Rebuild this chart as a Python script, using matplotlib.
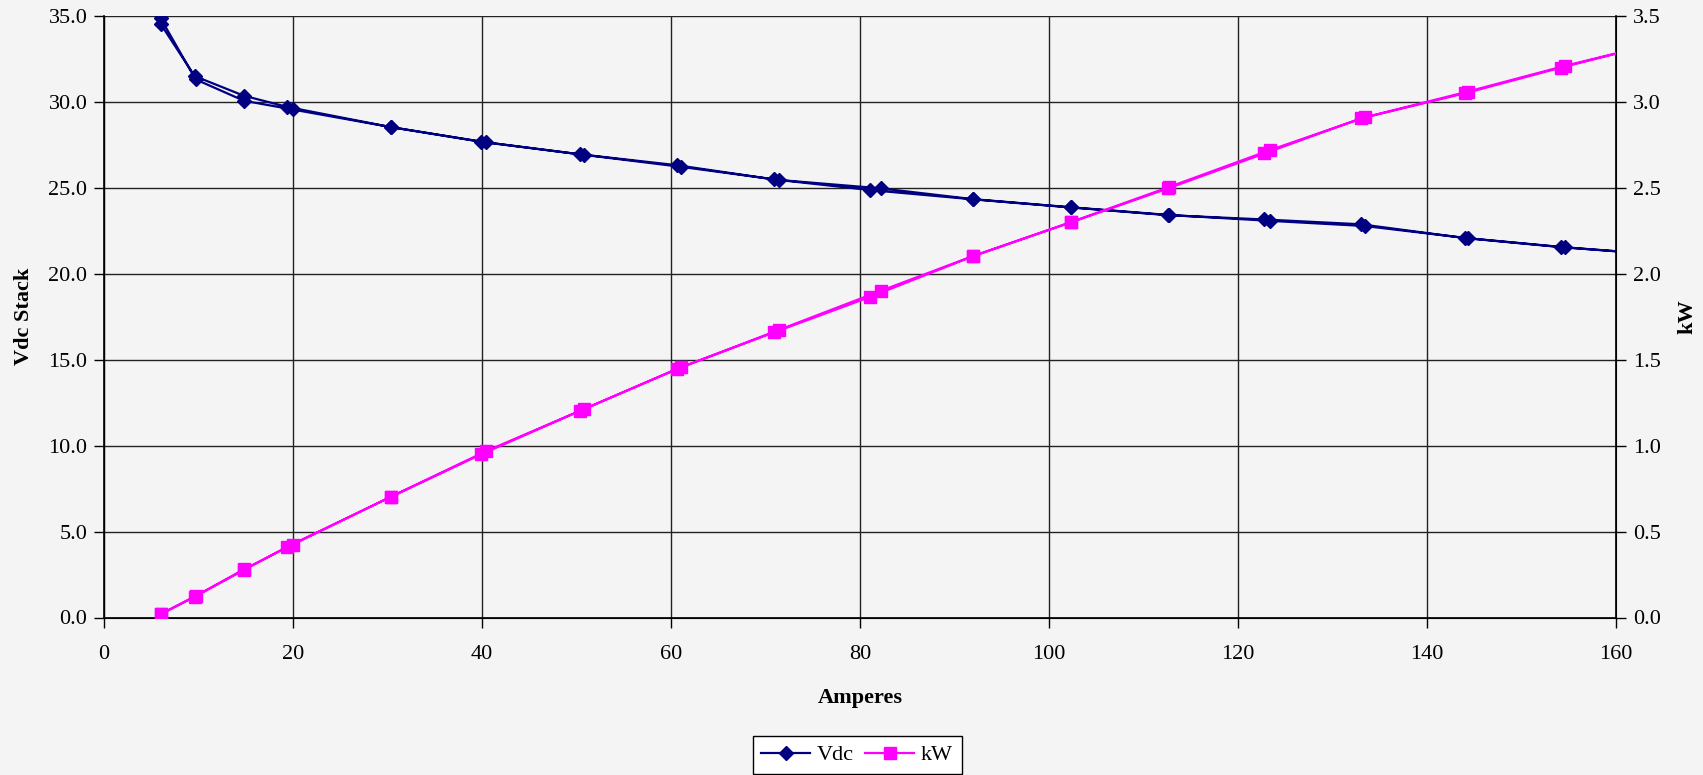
import numpy as np
import matplotlib.pyplot as plt

# mesures dans l'ordre : montée puis descente en courant
amperes = [6.0, 9.6, 14.8, 19.4, 30.4, 39.9, 50.4, 60.6, 70.9, 81.1, 92.0, 102.3,
           112.6, 122.8, 133.0, 144.0, 154.2, 165.0,
           154.6, 144.3, 133.4, 123.4, 112.7, 102.3, 92.0, 82.2, 71.4, 61.1,
           50.8, 40.4, 30.4, 19.95, 14.8, 9.7, 6.0]
vdc = [34.53, 31.50, 30.36, 29.71, 28.53, 27.68, 26.95, 26.32, 25.49, 24.87, 24.33, 23.86,
       23.41, 23.16, 22.88, 22.08, 21.55, 21.10,
       21.54, 22.07, 22.78, 23.08, 23.42, 23.87, 24.34, 24.97, 25.46, 26.22,
       26.92, 27.65, 28.53, 29.56, 30.07, 31.31, 34.86]
kw = [0.019, 0.121, 0.276, 0.412, 0.703, 0.949, 1.203, 1.446, 1.659, 1.866, 2.103, 2.299,
      2.497, 2.700, 2.904, 3.050, 3.200, 3.350,
      3.210, 3.060, 2.910, 2.720, 2.505, 2.300, 2.104, 1.901, 1.673, 1.456,
      1.213, 0.967, 0.704, 0.424, 0.280, 0.125, 0.020]

x_ticks = np.arange(0, 161, 20)
vdc_ticks = np.arange(0, 35.1, 5)
kw_ticks = np.arange(0, 3.51, 0.5)

plt.rcParams['font.family'] = ['Liberation Serif', 'DejaVu Serif']
plt.rcParams['font.size'] = 16

fig = plt.figure(figsize=(17.03, 7.75), dpi=100, facecolor='#f4f4f4')
ax = fig.add_axes([104 / 1703, 1 - 617.5 / 775, (1616 - 104) / 1703, (617.5 - 16) / 775])
ax.set_facecolor('none')
ax2 = ax.twinx()

l1, = ax.plot(amperes, vdc, color='#000080', lw=1.6, marker='D', markersize=7,
              label='Vdc', zorder=3)
l2, = ax2.plot(amperes, kw, color='#ff00ff', lw=1.6, marker='s', markersize=8,
               label='kW', zorder=3)

ax.set_xlim(0, 160)
ax.set_ylim(0, 35)
ax2.set_ylim(0, 3.5)
ax.set_xticks(x_ticks)
ax.set_yticks(vdc_ticks)
ax2.set_yticks(kw_ticks)
ax.set_yticklabels([f'{v:.1f}' for v in vdc_ticks])
ax2.set_yticklabels([f'{v:.1f}' for v in kw_ticks])

ax.grid(True, color='#222222', lw=1.0)
ax.set_axisbelow(True)
for a in (ax, ax2):
    a.tick_params(direction='out', length=7, width=1, colors='black', labelsize=16, pad=5)
    a.spines['top'].set_visible(False)
ax.tick_params(axis='x', pad=13)
ax.spines['left'].set_linewidth(1.2)
ax.spines['bottom'].set_linewidth(1.2)
ax2.spines['right'].set_linewidth(1.2)

ax.set_xlabel('Amperes', fontweight='bold', fontsize=16, labelpad=17)
ax.set_ylabel('Vdc Stack', fontweight='bold', fontsize=16, labelpad=10)
ax2.set_ylabel('kW', fontweight='bold', fontsize=16, labelpad=12)

# légende collée en bas, un peu coupée comme sur l'original
fig.legend(handles=[l1, l2], loc='upper center', bbox_to_anchor=(857 / 1703, 1 - 736 / 775),
           ncol=2, frameon=True, fancybox=False, edgecolor='black', facecolor='white',
           framealpha=1, fontsize=16, handlelength=2.2, columnspacing=0.5,
           handletextpad=0.3, borderpad=0.4, borderaxespad=0)

fig.savefig('out.png', dpi=100, facecolor=fig.get_facecolor())
